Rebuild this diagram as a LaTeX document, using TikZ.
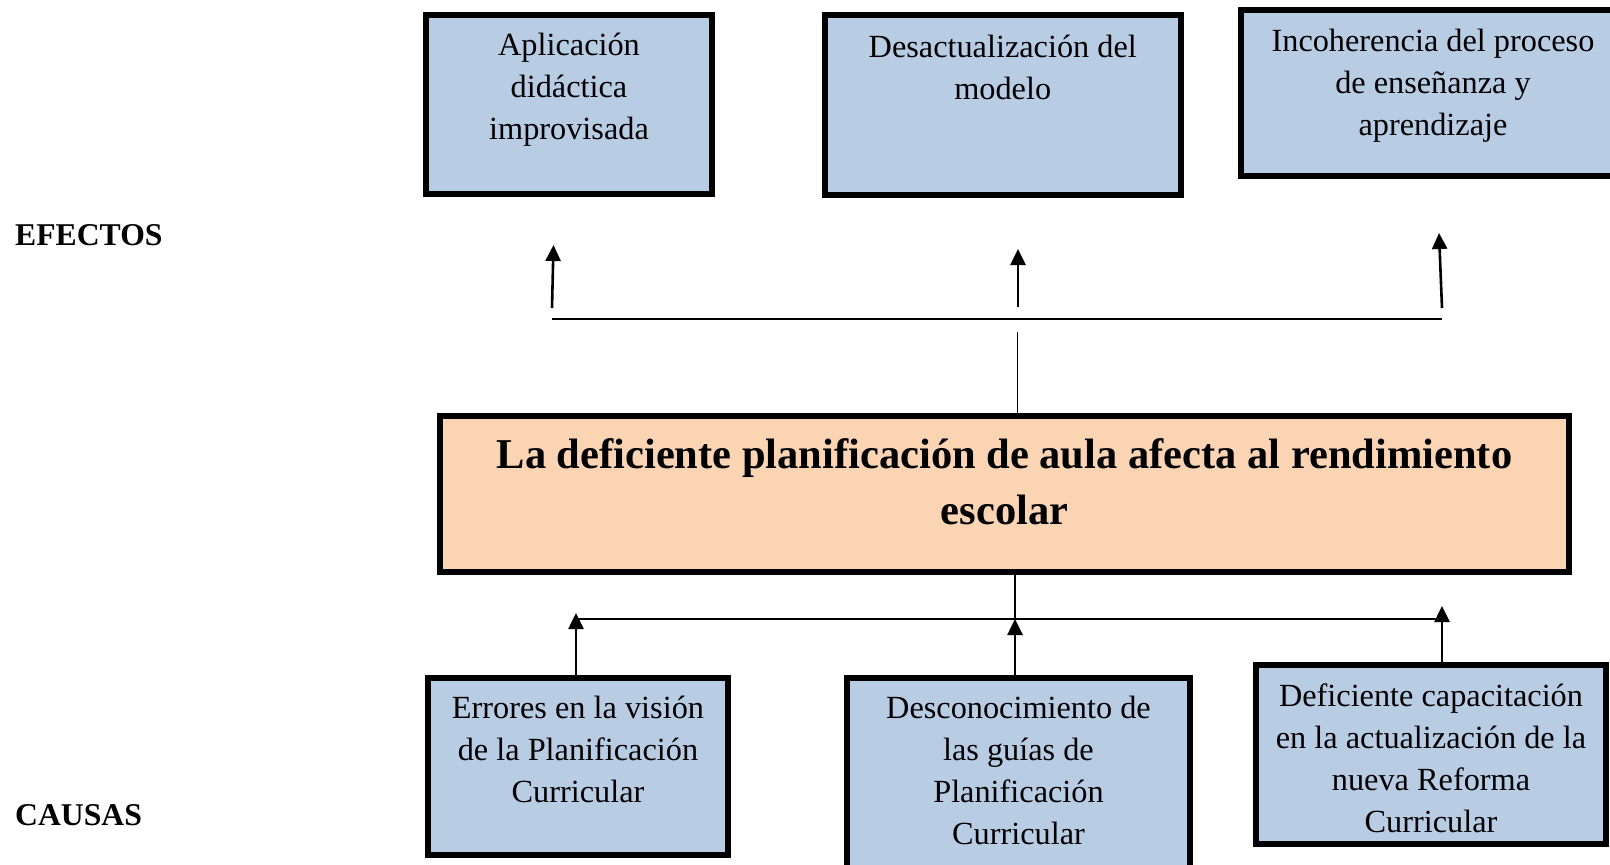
\documentclass[tikz,border=0pt]{standalone}
\usepackage{fontspec}
\setmainfont{Liberation Serif}
\usetikzlibrary{arrows.meta}
\definecolor{boxblue}{HTML}{B8CCE4}
\definecolor{boxpeach}{HTML}{FBD4B4}
\begin{document}
\begin{tikzpicture}[x=1pt,y=-1pt,
  box/.style={draw=black, line width=6pt, fill=boxblue, inner sep=0pt, rectangle},
  probbox/.style={box, fill=boxpeach},
  boxtext/.style={anchor=base, inner sep=0pt, align=flush center, font=\fontsize{32.3}{42}\selectfont},
  titletext/.style={anchor=base, inner sep=0pt, align=flush center, font=\fontsize{42.5}{56}\selectfont\bfseries},
  sidelabel/.style={anchor=base west, inner sep=0pt, font=\fontsize{31.7}{36}\selectfont\bfseries},
  connline/.style={line width=1.8pt},
  arr/.style={line width=2.6pt, -{Triangle[length=16pt,width=15pt]}},
]
\useasboundingbox (0,0) rectangle (1610,865);
\clip (0,0) rectangle (1610,865);

% effect boxes
\node[box, minimum width=286pt, minimum height=179pt] (ef1) at (569,104.5) {};
\node[box, minimum width=356.5pt, minimum height=180pt] (ef2) at (1002.75,104.5) {};
\node[box, minimum width=384pt, minimum height=166pt] (ef3) at (1433,93) {};
% problem box
\node[probbox, minimum width=1129pt, minimum height=156pt] (prob) at (1004.5,494) {};
% cause boxes
\node[box, minimum width=300pt, minimum height=177pt] (ca1) at (578,766.5) {};
\node[box, minimum width=343pt, minimum height=207pt] (ca2) at (1018.5,781.5) {};
\node[box, minimum width=350pt, minimum height=179pt] (ca3) at (1431,754.5) {};

% texts
\node[boxtext, text width=270pt] (t1) at (569,55) {Aplicación\\didáctica\\improvisada};
\node[boxtext, text width=340pt] (t2) at (1002.75,57) {Desactualización del\\modelo};
\node[boxtext, text width=370pt] (t3) at (1433,51) {Incoherencia del proceso\\de enseñanza y\\aprendizaje};
\node[titletext, text width=1110pt] (tp) at (1004.5,468) {La deficiente planificación de aula afecta al rendimiento\\escolar};
\node[boxtext, text width=290pt] (t4) at (578,718) {Errores en la visión\\de la Planificación\\Curricular};
\node[boxtext, text width=330pt] (t5) at (1018.5,718) {Desconocimiento de\\las guías de\\Planificación\\Curricular};
\node[boxtext, text width=340pt] (t6) at (1431,706) {Deficiente capacitación\\en la actualización de la\\nueva Reforma\\Curricular};

\node[sidelabel] (efectos) at (15,245) {EFECTOS};
\node[sidelabel] (causas) at (15,825) {CAUSAS};

% effects connectors
\coordinate (effL) at (552,319);
\coordinate (effR) at (1442,319);
\draw[connline] (effL) -- (effR);
\coordinate (a1s) at (552,308);
\coordinate (a1e) at (553.5,245);
\coordinate (a2s) at (1018,307);
\coordinate (a2e) at (1018,249);
\coordinate (a3s) at (1442,308);
\coordinate (a3e) at (1439,233);
\draw[arr] (a1s) -- (a1e);
\draw[arr] (a2s) -- (a2e);
\draw[arr] (a3s) -- (a3e);
\coordinate (vtop) at (1017.5,332);
\draw[connline] (vtop |- prob.north) -- (vtop);

% causes connectors
\coordinate (cl) at (576,619);
\coordinate (cr) at (1442,619);
\draw[connline] (cl) -- (cr);
\coordinate (c1tip) at (576,613);
\coordinate (c2tip) at (1015,619);
\coordinate (c3tip) at (1442,606);
\draw[connline] (c2tip |- prob.south) -- (c2tip);
\draw[arr] (c1tip |- ca1.north) -- (c1tip);
\draw[arr] (c2tip |- ca2.north) -- (c2tip);
\draw[arr] (c3tip |- ca3.north) -- (c3tip);
\end{tikzpicture}
\end{document}
